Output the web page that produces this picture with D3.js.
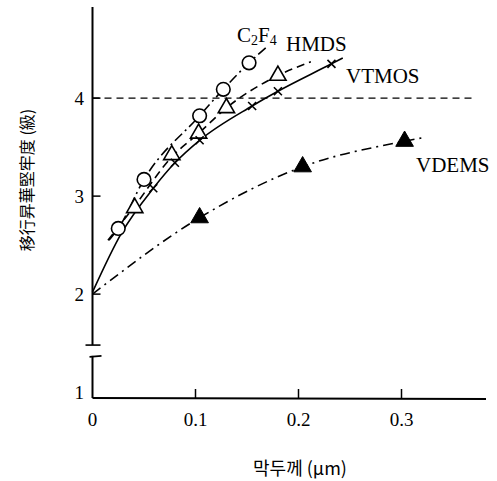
<!DOCTYPE html>
<html><head><meta charset="utf-8">
<script src="https://cdn.jsdelivr.net/npm/d3@7"></script>
<style>body{margin:0;background:#fff}svg{display:block}</style>
</head><body>
<svg id="c" width="497" height="481"></svg>
<script>
// ---- data ----
const xTicks = [0.1, 0.2, 0.3];
const xTickLabels = ["0", "0.1", "0.2", "0.3"];
const xTickLabelValues = [0, 0.1, 0.2, 0.3];
const yTicks = [2, 3, 4];
const yTickLabels = ["1", "2", "3", "4"];
const yTickLabelValues = [1, 2, 3, 4];
const refLevel = 4;

const c2f4X = [0.025, 0.05, 0.104, 0.127, 0.152];
const c2f4Y = [2.67, 3.17, 3.82, 4.09, 4.36];
const c2f4CurveX = [0.016, 0.025, 0.05, 0.104, 0.127, 0.152, 0.170];
const c2f4CurveY = [2.55, 2.67, 3.17, 3.82, 4.09, 4.36, 4.53];

const hmdsX = [0.041, 0.077, 0.103, 0.130, 0.180];
const hmdsY = [2.88, 3.42, 3.64, 3.90, 4.23];
const hmdsCurveX = [0.015, 0.041, 0.077, 0.103, 0.130, 0.180, 0.212];
const hmdsCurveY = [2.55, 2.90, 3.40, 3.64, 3.90, 4.23, 4.37];

const vtmosX = [0.059, 0.080, 0.104, 0.155, 0.180, 0.232];
const vtmosY = [3.08, 3.34, 3.57, 3.92, 4.07, 4.35];
const vtmosCurveX = [0, 0.028, 0.059, 0.080, 0.104, 0.155, 0.180, 0.232, 0.243];
const vtmosCurveY = [2.02, 2.62, 3.08, 3.34, 3.57, 3.92, 4.07, 4.35, 4.41];

const vdemsX = [0.104, 0.204, 0.303];
const vdemsY = [2.78, 3.30, 3.56];
const vdemsCurveX = [0, 0.104, 0.204, 0.303, 0.323];
const vdemsCurveY = [2.0, 2.78, 3.30, 3.56, 3.60];

const seriesNames = ["C2F4", "HMDS", "VTMOS", "VDEMS"];
const yTitle = "移行昇華堅牢度 (級)";
const xTitle = "막두께 (μm)";

// ---- scales ----
const x = d3.scaleLinear().domain([0, 0.3]).range([92.5, 401.5]);
const y = d3.scaleLinear().domain([0.94, 4.94]).range([398, 6]);

const svg = d3.select("#c");
const serif = "'Liberation Serif','Times New Roman',serif";

// axes
const g = svg.append("g").attr("stroke", "#000").attr("fill", "none");
g.append("line").attr("x1", x(0)).attr("x2", 486).attr("y1", y(0.94)).attr("y2", y(0.94)+1).attr("stroke-width", 2);
g.append("line").attr("x1", x(0)).attr("x2", x(0)).attr("y1", y(4.93)).attr("y2", y(1.48)).attr("stroke-width", 2);
g.append("line").attr("x1", x(0)-7).attr("x2", x(0)+8).attr("y1", y(1.48)).attr("y2", y(1.48)).attr("stroke-width", 1.6);
g.append("line").attr("x1", x(0)-3).attr("x2", x(0)+9).attr("y1", y(1.37)+1).attr("y2", y(1.37)).attr("stroke-width", 1.6);
g.append("line").attr("x1", x(0)).attr("x2", x(0)).attr("y1", y(1.37)).attr("y2", y(0.94)).attr("stroke-width", 2);

g.selectAll(".yt").data(yTicks).enter().append("line")
  .attr("x1", x(0)).attr("x2", x(0)+8).attr("y1", d => y(d)).attr("y2", d => y(d)).attr("stroke-width", 1.5);
g.selectAll(".xt").data(xTicks).enter().append("line")
  .attr("x1", d => x(d)).attr("x2", d => x(d)).attr("y1", y(0.94)).attr("y2", y(0.94)-9).attr("stroke-width", 1.5);

svg.selectAll(".yl").data(yTickLabelValues).enter().append("text")
  .attr("x", 84).attr("y", d => y(d)).attr("dy", "0.35em").attr("text-anchor", "end")
  .attr("font-family", serif).attr("font-size", 19).text((d, i) => yTickLabels[i]);
svg.selectAll(".xl").data(xTickLabelValues).enter().append("text")
  .attr("x", d => x(d)).attr("y", 426).attr("text-anchor", "middle")
  .attr("font-family", serif).attr("font-size", 19).text((d, i) => xTickLabels[i]);

svg.append("line").attr("x1", x(0)).attr("x2", 475).attr("y1", y(refLevel)).attr("y2", y(refLevel))
  .attr("stroke", "#000").attr("stroke-width", 1.4).attr("stroke-dasharray", "7,5");

const line = d3.line().x(d => x(d[0])).y(d => y(d[1])).curve(d3.curveMonotoneX);
const zip = (a, b) => a.map((v, i) => [v, b[i]]);
const curves = [
  {pts: zip(c2f4CurveX, c2f4CurveY), dash: "10,4,2,4"},
  {pts: zip(hmdsCurveX, hmdsCurveY), dash: "8,5"},
  {pts: zip(vtmosCurveX, vtmosCurveY), dash: null},
  {pts: zip(vdemsCurveX, vdemsCurveY), dash: "10,5,2,5"}
];
curves.forEach(c => {
  svg.append("path").attr("d", line(c.pts)).attr("fill", "none").attr("stroke", "#000")
    .attr("stroke-width", 1.6).attr("stroke-dasharray", c.dash);
});

svg.selectAll(".circ").data(zip(c2f4X, c2f4Y)).enter().append("circle")
  .attr("cx", d => x(d[0])).attr("cy", d => y(d[1])).attr("r", 6.8)
  .attr("fill", "#fff").attr("stroke", "#000").attr("stroke-width", 1.6);
const tri = d3.symbol().type(d3.symbolTriangle).size(115);
svg.selectAll(".otri").data(zip(hmdsX, hmdsY)).enter().append("path")
  .attr("d", tri).attr("transform", d => `translate(${x(d[0])},${y(d[1])})`)
  .attr("fill", "#fff").attr("stroke", "#000").attr("stroke-width", 1.6);
svg.selectAll(".cross").data(zip(vtmosX, vtmosY)).enter().append("path")
  .attr("d", "M-4,-4L4,4M-4,4L4,-4").attr("transform", d => `translate(${x(d[0])},${y(d[1])})`)
  .attr("fill", "none").attr("stroke", "#000").attr("stroke-width", 1.6);
svg.selectAll(".ftri").data(zip(vdemsX, vdemsY)).enter().append("path")
  .attr("d", d3.symbol().type(d3.symbolTriangle).size(135)).attr("transform", d => `translate(${x(d[0])},${y(d[1])})`)
  .attr("fill", "#000").attr("stroke", "#000").attr("stroke-width", 1);

const c2 = svg.append("text").attr("x", 237).attr("y", 42).attr("font-family", serif).attr("font-size", 21);
c2.append("tspan").text("C");
c2.append("tspan").attr("font-size", 14).attr("dy", 3).text("2");
c2.append("tspan").attr("dy", -3).text("F");
c2.append("tspan").attr("font-size", 14).attr("dy", 3).text("4");
svg.append("text").attr("x", 286).attr("y", 51).attr("font-family", serif).attr("font-size", 21).text(seriesNames[1]);
svg.append("text").attr("x", 346).attr("y", 83).attr("font-family", serif).attr("font-size", 21).text(seriesNames[2]);
svg.append("text").attr("x", 416).attr("y", 172).attr("font-family", serif).attr("font-size", 21).text(seriesNames[3]);

svg.append("text").attr("transform", "translate(33,180) rotate(-90)").attr("text-anchor", "middle")
  .attr("font-family", "'Noto Sans CJK JP',sans-serif").attr("font-size", 16).text(yTitle);
svg.append("text").attr("x", 300).attr("y", 475).attr("text-anchor", "middle")
  .attr("font-family", "'Noto Sans CJK KR',sans-serif").attr("font-size", 18).text(xTitle);
</script>
</body></html>
